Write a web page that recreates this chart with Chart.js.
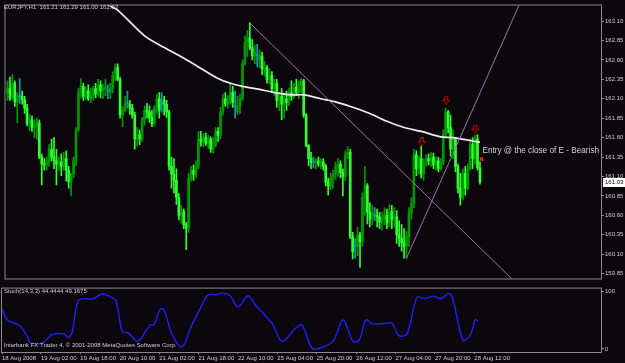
<!DOCTYPE html>
<html><head><meta charset="utf-8">
<script src="https://cdn.jsdelivr.net/npm/chart.js@4.4.0/dist/chart.umd.min.js"></script>
<style>
html,body{margin:0;padding:0;background:#0b070c;overflow:hidden}
#wrap{position:relative;width:625px;height:363px;background:#0b070c}
canvas{position:absolute;left:0}
#c1{top:0}
#c2{top:284px}
</style></head><body>
<div id="wrap"><canvas id="c1" width="625" height="284"></canvas><canvas id="c2" width="625" height="79"></canvas></div>
<script>
// ---------- DATA (EURJPY H1, one entry per hourly bar) ----------
const barOpen = [
162.18,162.23,162.11,162.30,162.06,162.13,162.13,162.09,161.98,161.78,
161.83,161.73,161.75,161.79,161.35,161.26,161.25,161.29,161.45,161.35,
161.30,161.26,161.29,161.23,161.33,161.18,161.03,161.13,161.30,161.70,
162.18,162.26,162.13,162.20,162.10,162.13,162.23,162.16,162.28,162.20,
162.23,162.20,162.18,162.23,162.40,162.50,162.35,161.89,161.95,162.03,
162.03,161.98,161.89,161.58,161.64,161.58,161.83,161.95,161.93,161.85,
161.78,161.98,162.10,162.03,162.08,162.03,161.93,161.23,161.13,161.05,
160.83,160.60,160.65,160.48,160.43,161.08,161.18,161.13,161.23,161.58,
161.55,161.60,161.53,161.58,161.45,161.50,161.68,161.63,161.93,162.10,
162.03,162.08,162.18,162.00,161.93,162.01,162.10,162.55,162.83,162.88,
162.76,162.65,162.65,162.60,162.65,162.48,162.50,162.35,162.40,162.23,
162.30,162.08,162.13,162.03,162.10,162.05,162.18,162.13,162.25,162.18,
162.28,162.33,161.89,161.50,161.33,161.28,161.28,161.30,161.26,161.29,
161.23,161.03,160.98,161.08,161.13,161.23,161.26,161.15,161.10,161.38,
161.41,160.33,160.20,160.20,160.35,160.26,160.83,160.98,160.64,160.55,
160.60,160.60,160.58,160.51,160.55,160.60,160.50,160.65,160.55,160.58,
160.35,160.30,160.25,160.20,160.33,160.63,160.75,161.38,161.20,161.33,
161.13,161.26,161.33,161.30,161.35,161.25,161.30,161.20,161.28,161.64,
161.93,161.73,161.45,161.58,161.23,160.95,160.83,161.14,160.95,161.20,
161.51,161.33,161.58,161.21];
const barHigh = [
162.33,162.38,162.41,162.33,162.18,162.36,162.20,162.13,162.03,161.90,
161.88,161.83,161.85,161.83,161.39,161.33,161.35,161.51,161.58,161.60,
161.45,161.35,161.39,161.41,161.43,161.23,161.14,161.35,161.73,162.23,
162.36,162.30,162.25,162.28,162.23,162.26,162.30,162.35,162.33,162.29,
162.35,162.28,162.30,162.45,162.55,162.55,162.38,162.00,162.13,162.20,
162.08,162.03,161.93,161.73,161.70,161.86,162.01,162.04,162.01,161.95,
162.01,162.16,162.18,162.18,162.13,162.08,161.95,161.35,161.33,161.20,
160.88,160.73,160.68,160.51,161.14,161.23,161.25,161.30,161.68,161.68,
161.65,161.66,161.63,161.61,161.60,161.73,161.73,161.99,162.16,162.18,
162.14,162.30,162.26,162.20,162.13,162.16,162.60,162.91,162.98,163.08,
162.86,162.79,162.80,162.73,162.70,162.58,162.53,162.49,162.45,162.35,
162.35,162.18,162.23,162.18,162.20,162.24,162.33,162.30,162.35,162.33,
162.36,162.35,161.91,161.51,161.41,161.35,161.33,161.35,161.33,161.33,
161.26,161.08,161.14,161.18,161.29,161.33,161.30,161.20,161.43,161.48,
161.45,160.38,160.30,160.45,160.38,160.89,161.23,161.01,160.76,160.73,
160.70,160.68,160.64,160.64,160.70,160.68,160.74,160.73,160.70,160.66,
160.53,160.48,160.43,160.39,160.70,160.83,161.45,161.43,161.36,161.49,
161.33,161.38,161.39,161.41,161.40,161.35,161.35,161.33,161.70,161.98,
161.95,161.89,161.70,161.60,161.26,161.14,161.20,161.23,161.26,161.58,
161.60,161.63,161.64,161.29];
const barLow = [
162.08,162.08,162.09,162.00,161.79,162.04,162.03,161.91,161.75,161.69,
161.68,161.60,161.58,161.33,160.99,161.18,161.18,161.23,161.30,161.20,
160.99,161.18,161.11,161.18,161.04,160.95,160.85,161.08,161.24,161.68,
162.11,162.08,162.09,162.08,162.05,162.08,162.11,162.13,162.11,162.10,
162.14,162.10,162.10,162.18,162.33,162.33,161.85,161.74,161.93,161.98,
161.90,161.85,161.45,161.49,161.51,161.55,161.76,161.85,161.80,161.74,
161.75,161.91,161.85,161.93,161.89,161.86,161.18,160.95,160.89,160.74,
160.54,160.50,160.43,160.16,160.38,161.04,161.05,161.08,161.20,161.49,
161.48,161.50,161.46,161.41,161.40,161.48,161.55,161.58,161.89,162.00,
161.98,162.03,161.99,161.85,161.90,161.91,162.08,162.53,162.64,162.73,
162.60,162.55,162.51,162.50,162.41,162.39,162.30,162.29,162.18,162.14,
161.99,161.95,161.83,161.85,161.95,162.01,162.08,162.10,162.14,162.10,
162.18,161.86,161.48,161.24,161.20,161.21,161.20,161.23,161.20,161.18,
160.98,160.86,160.93,160.95,161.06,161.10,161.08,160.85,161.05,161.33,
160.30,160.04,160.05,160.08,159.93,160.20,160.60,160.49,160.45,160.48,
160.53,160.45,160.43,160.41,160.48,160.43,160.45,160.43,160.45,160.24,
160.20,160.14,160.05,160.04,160.20,160.55,160.70,161.11,161.13,161.08,
161.05,161.23,161.25,161.23,161.20,161.18,161.16,161.18,161.25,161.60,
161.66,161.36,161.33,161.16,160.89,160.73,160.80,160.86,160.93,161.18,
161.20,161.26,161.18,161.00];
const barClose = [
162.23,162.11,162.30,162.06,162.13,162.13,162.09,161.98,161.78,161.83,
161.73,161.75,161.79,161.35,161.26,161.25,161.29,161.45,161.35,161.30,
161.26,161.29,161.23,161.33,161.18,161.03,161.13,161.30,161.70,162.18,
162.26,162.13,162.20,162.10,162.13,162.23,162.16,162.28,162.20,162.23,
162.25,162.20,162.23,162.40,162.50,162.35,161.89,161.95,162.03,162.03,
161.98,161.89,161.58,161.64,161.58,161.83,161.95,161.93,161.85,161.78,
161.98,162.10,161.95,162.03,162.03,161.93,161.23,161.13,161.05,160.83,
160.60,160.65,160.48,160.43,161.08,161.18,161.13,161.23,161.58,161.55,
161.60,161.53,161.58,161.45,161.50,161.68,161.63,161.93,162.10,162.03,
162.08,162.18,162.05,162.00,162.01,162.10,162.55,162.83,162.88,162.76,
162.65,162.70,162.65,162.65,162.48,162.50,162.35,162.40,162.23,162.30,
162.08,162.13,162.03,162.10,162.05,162.18,162.13,162.25,162.18,162.28,
162.33,161.89,161.50,161.33,161.28,161.28,161.30,161.26,161.29,161.23,
161.03,160.98,161.08,161.13,161.23,161.26,161.15,161.10,161.38,161.41,
160.33,160.13,160.20,160.35,160.26,160.83,160.98,160.64,160.55,160.64,
160.60,160.58,160.51,160.55,160.60,160.50,160.65,160.55,160.58,160.35,
160.30,160.25,160.20,160.33,160.63,160.75,161.38,161.20,161.33,161.13,
161.26,161.33,161.30,161.35,161.25,161.30,161.20,161.28,161.64,161.93,
161.73,161.45,161.58,161.23,160.95,160.83,161.14,160.95,161.20,161.51,
161.33,161.58,161.21,161.03];

// Moving average (white line), read at bar positions
const maIdx = [35,41,45,56,64,71,78,86,91,96,103,109,116,121,128,134,141,148,155,162,169,177,182,193];
const maVal = [163.41,163.31,163.24,162.91,162.76,162.64,162.51,162.36,162.30,162.26,162.22,162.18,162.15,162.15,162.10,162.06,161.99,161.91,161.81,161.73,161.68,161.61,161.60,161.54];

// Trend lines (two anchor points each)
const trend1Idx = [99, 210];
const trend1Val = [163.075, 159.66];
const trend2Idx = [163, 213];
const trend2Val = [160.05, 163.59];

// Arrow marks and the entry marker
const arrowIdx = [169.2, 179.2, 191.1];
const arrowVal = [161.546, 162.084, 161.709];
const entryIdx = [193.6];
const entryVal = [161.325];

// Stochastic (14,3,3)
const stochIdx = [-0.8,0.8,2.4,6.5,9.7,10.6,14.6,16.2,19.5,24.4,26,27.6,30,32.5,35.7,39.8,42.2,45.5,47.9,50.4,54.4,59.3,60.9,63.4,65,68.2,72.3,76.3,79.6,82.8,86.9,88.5,91.8,95,99.1,102.3,108.8,112.9,118.6,121,125.1,128.3,133.6,137.7,141.7,144.2,147,149.4,155.9,157.6,160.4,163.7,167.7,171,174.2,177.5,180.7,182.3,186.4,189.6,191.3,192.5];
const stochVal = [70,54,48,40,20,11,9,12,25,26,20,28,84,88,87,96,93,84,31,28,13,42,42,70,68,26,3,42,70,94,95,98,93,73,93,76,45,13,37,42,1,1,13,51,13,15,51,44,45,45,23,26,90,88,92,88,97,87,15,26,51,49];

// Axis tick labels
const priceTicks = [163.10,162.85,162.60,162.35,162.10,161.85,161.60,161.35,161.10,160.85,160.60,160.35,160.10,159.85];
const stochTicks = [0, 100];
const timeIdx = [-0.81,15,31,47,63,79,95,111,127,143,159,175,191];
const timeLabels = ["18 Aug 2008","19 Aug 02:00","19 Aug 18:00","20 Aug 10:00","21 Aug 02:00","21 Aug 18:00","22 Aug 10:00","25 Aug 04:00","25 Aug 20:00","26 Aug 12:00","27 Aug 04:00","27 Aug 20:00","28 Aug 12:00"];

const headerText = "EURJPY,H1  161.21 161.29 161.00 161.03";
const entryText = "Entry @ the close of E - Bearish";
const stochText = "Stoch(14,3,3) 44.4444 49.1675";
const copyText = "Interbank FX Trader 4, \u00A9 2001-2008 MetaQuotes Software Corp.";
const lastPrice = 161.03;

// ---------- STYLE ----------
const BG = '#0b070c', FRAME = '#8a8a8a', TXT = '#cfcfcf';
const BULL = '#009a00', BEAR = '#2cff2c', DOJI = '#00a0b4';
const FONT = 'Liberation Sans, Arial, sans-serif';
const XMIN = -0.81, XMAX = 242.44;

const idx = barOpen.map((_, i) => i);
const barColor = idx.map(i => barClose[i] > barOpen[i] ? BULL : (barClose[i] < barOpen[i] ? BEAR : DOJI));
const wickData = idx.map(i => ({x: i, y: [barLow[i], barHigh[i]]}));
const bodyData = idx.map(i => ({x: i, y: [barOpen[i], barClose[i]]}));
const pts = (xs, ys) => xs.map((x, i) => ({x, y: ys[i]}));

function arrowImg() {
  const c = document.createElement('canvas'); c.width = 8; c.height = 9;
  const g = c.getContext('2d'); g.strokeStyle = '#d40000'; g.lineWidth = 1;
  g.beginPath(); g.moveTo(2.5,0.5); g.lineTo(5.5,0.5); g.lineTo(5.5,4.5); g.lineTo(7.5,4.5);
  g.lineTo(4,8.5); g.lineTo(0.5,4.5); g.lineTo(2.5,4.5); g.closePath(); g.stroke();
  return c;
}

const bgPlugin = {id:'bg', beforeDraw(ch){const c=ch.ctx; c.save(); c.fillStyle=BG; c.fillRect(0,0,ch.width,ch.height); c.restore();}};
const framePlugin = {id:'frame', afterDraw(ch){const a=ch.chartArea,c=ch.ctx; c.save(); c.strokeStyle=FRAME; c.lineWidth=1;
  c.strokeRect(a.left-0.5, a.top-0.5, a.right-a.left+1, a.bottom-a.top+1); c.restore();}};

const mainText = {id:'mainText', afterDraw(ch){
  const c = ch.ctx, xs = ch.scales.x, ys = ch.scales.y;
  c.save();
  c.fillStyle = TXT; c.textBaseline = 'middle'; c.textAlign = 'left';
  c.font = '6px ' + FONT; c.fillText(headerText, 4, 7);
  c.font = '8.2px ' + FONT; c.fillStyle = '#d4d4d4';
  c.fillText(entryText, xs.getPixelForValue(194), ys.getPixelForValue(161.425));
  const py = Math.round(ys.getPixelForValue(lastPrice));
  c.fillStyle = '#ffffff'; c.fillRect(603, py-4, 22, 9);
  c.fillStyle = '#000000'; c.font = '6px ' + FONT; c.fillText(lastPrice.toFixed(2), 605, py+0.5);
  c.restore();
}};
const subText = {id:'subText', afterDraw(ch){
  const c = ch.ctx; c.save(); c.fillStyle = TXT; c.textBaseline='middle'; c.textAlign='left'; c.font='6px '+FONT;
  c.fillText(stochText, 4, 7); c.fillText(copyText, 4, 61); c.restore();
}};

const tickFont = {size: 6, family: FONT};

new Chart(document.getElementById('c1'), {
  type: 'bar',
  data: { datasets: [
    {type:'bar', data: wickData, backgroundColor: barColor, barThickness: 1, grouped: false, order: 6},
    {type:'bar', data: bodyData, backgroundColor: barColor, barThickness: 2, minBarLength: 1, grouped: false, order: 5},
    {type:'line', data: pts(maIdx, maVal), borderColor: '#eeeeee', borderWidth: 1.7, pointRadius: 0, tension: 0.3, order: 3},
    {type:'line', data: pts(trend1Idx, trend1Val), borderColor: '#a070b0', borderWidth: 1, pointRadius: 0, order: 2},
    {type:'line', data: pts(trend2Idx, trend2Val), borderColor: '#a070b0', borderWidth: 1, pointRadius: 0, order: 2},
    {type:'line', data: pts(arrowIdx, arrowVal), showLine: false, pointStyle: arrowImg(), pointRadius: 4, order: 1},
    {type:'line', data: pts(entryIdx, entryVal), showLine: false, pointStyle: 'crossRot', pointRadius: 2.5, borderColor: '#ff2020', borderWidth: 1.5, order: 1}
  ]},
  options: {
    responsive: false, animation: false, devicePixelRatio: 1,
    layout: {padding: {left: 2, top: 2, right: 0, bottom: 1}},
    plugins: {legend: {display: false}, tooltip: {enabled: false}},
    scales: {
      x: {type: 'linear', min: XMIN, max: XMAX, display: false, offset: false},
      y: {position: 'right', min: 159.7875, max: 163.30,
          afterFit(s){ s.width = 24; },
          afterBuildTicks(s){ s.ticks = priceTicks.map(v => ({value: v})); },
          ticks: {color: TXT, font: tickFont, padding: 1, callback: v => Number(v).toFixed(2)},
          grid: {drawOnChartArea: false, tickLength: 3, color: FRAME},
          border: {color: FRAME}}
    }
  },
  plugins: [bgPlugin, framePlugin, mainText]
});

new Chart(document.getElementById('c2'), {
  type: 'line',
  data: { datasets: [
    {data: pts(stochIdx, stochVal), borderColor: '#1f1fff', borderWidth: 1.4, pointRadius: 0, tension: 0.3}
  ]},
  options: {
    responsive: false, animation: false, devicePixelRatio: 1,
    layout: {padding: {left: 2, top: 1, right: 0, bottom: 0}},
    plugins: {legend: {display: false}, tooltip: {enabled: false}},
    scales: {
      x: {type: 'linear', min: XMIN, max: XMAX, position: 'bottom', offset: false,
          afterFit(s){ s.height = 11; },
          afterBuildTicks(s){ s.ticks = timeIdx.map(v => ({value: v})); },
          ticks: {color: TXT, font: tickFont, padding: 1, align: 'start', autoSkip: false, maxRotation: 0, minRotation: 0,
                  callback: (v, i) => timeLabels[i]},
          grid: {drawOnChartArea: false, tickLength: 2, color: FRAME},
          border: {color: FRAME}},
      y: {position: 'right', min: -5.5, max: 105.5,
          afterFit(s){ s.width = 24; },
          afterBuildTicks(s){ s.ticks = stochTicks.map(v => ({value: v})); },
          ticks: {color: TXT, font: tickFont, padding: 1, callback: v => String(v)},
          grid: {drawOnChartArea: false, tickLength: 3, color: FRAME},
          border: {color: FRAME}}
    }
  },
  plugins: [bgPlugin, framePlugin, subText]
});
</script></body></html>
